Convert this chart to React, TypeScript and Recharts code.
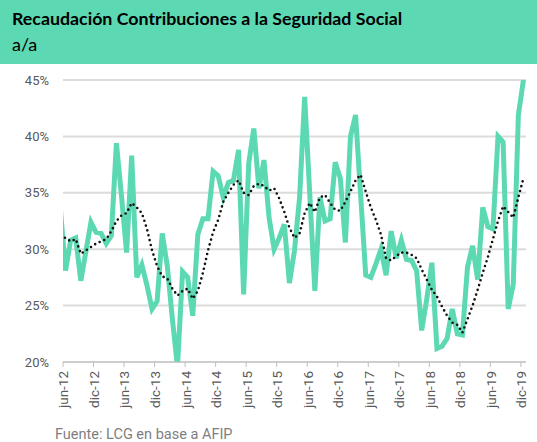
import { CartesianGrid, Line, LineChart, XAxis, YAxis } from "recharts";

const GREEN = "#5CD9B3";

// meses desde may-12 (parcialmente fuera del eje) hasta dic-19
const mesesNombre = ["ene", "feb", "mar", "abr", "may", "jun", "jul", "ago", "sep", "oct", "nov", "dic"];
const meses: string[] = [];
for (let a = 12; a <= 19; a++) {
  for (let m = 0; m < 12; m++) {
    if (a === 12 && m < 4) continue;
    meses.push(`${mesesNombre[m]}-${a}`);
  }
}

const etiquetas = [
  "jun-12", "dic-12", "jun-13", "dic-13", "jun-14", "dic-14", "jun-15", "dic-15",
  "jun-16", "dic-16", "jun-17", "dic-17", "jun-18", "dic-18", "jun-19", "dic-19",
];

// variación a/a (%)
const recaudacion = [
  33.5, 28.1, 30.8, 31.0, 27.2, 29.8, 32.4, 31.5, 31.4, 30.5, 31.2, 39.4,
  34.7, 29.7, 38.3, 27.5, 28.6, 26.8, 24.7, 25.4, 31.4, 28.5, 23.8, 19.6,
  28.0, 27.5, 24.1, 31.3, 32.7, 32.7, 36.9, 36.5, 34.6, 35.9, 36.1, 38.8,
  26.0, 37.6, 40.7, 35.4, 37.9, 32.8, 30.0, 31.0, 32.2, 27.0, 29.9, 34.6,
  43.5, 34.9, 26.3, 34.6, 32.5, 32.7, 37.7, 36.3, 30.6, 40.0, 41.9, 34.8,
  27.7, 27.5, 28.7, 30.0, 27.7, 31.6, 29.2, 30.8, 29.1, 29.0, 28.1, 22.8,
  25.6, 28.8, 21.2, 21.4, 22.1, 24.7, 22.5, 22.4, 28.4, 30.3, 27.3, 33.7,
  32.0, 31.8, 40.0, 39.5, 24.7, 26.9, 41.9, 45.0,
];

// promedio móvil
const promedio = [
  31.2, 31.0, 30.7, 30.9, 29.6, 29.9, 30.2, 30.5, 30.7, 30.9, 31.6, 32.5,
  33.0, 33.2, 34.1, 33.7, 33.2, 31.8, 29.9, 28.5, 27.6, 27.4, 26.5, 25.9,
  26.3, 26.5, 25.6, 26.3, 27.9, 29.9, 31.5, 32.6, 34.2, 35.0, 35.7, 36.1,
  35.0, 34.8, 35.6, 35.8, 35.6, 35.2, 35.4, 34.5, 33.3, 31.9, 31.0, 31.4,
  33.2, 34.1, 33.3, 34.6, 34.8, 34.1, 33.5, 33.4, 34.2, 35.1, 36.1, 36.6,
  35.1, 33.7, 32.6, 31.3, 29.2, 29.0, 29.4, 29.7, 29.7, 29.5, 29.2, 28.2,
  27.3, 26.4, 25.8, 24.9, 24.1, 23.5, 23.3, 22.6, 23.8, 25.0, 26.4, 27.9,
  29.3, 30.9, 32.5, 33.8, 33.3, 32.8, 34.6, 36.3,
];

const yTicks = [20, 25, 30, 35, 40, 45];

// cada mes se ubica a mitad de mes; las marcas del eje al inicio del mes
const data = meses.map((mes, i) => ({
  mes,
  t: i - 0.5,
  recaudacion: recaudacion[i],
  promedio: promedio[i],
}));
const xTicks = etiquetas.map((e) => meses.indexOf(e) - 1);

const XTick = (props: any) => {
  const { x, y, payload } = props;
  const label = meses[payload.value + 1];
  return (
    <g transform={`translate(${x},${y})`}>
      <text
        textAnchor="end"
        transform="rotate(-90)"
        dy="0.4em"
        fill="#595959"
        fontSize={13.5}
        fontFamily="Roboto"
      >
        {label}
      </text>
    </g>
  );
};

export default function App() {
  return (
    <div
      style={{
        position: "absolute",
        left: 0,
        top: 0,
        width: 537,
        height: 442,
        background: "#fff",
        overflow: "hidden",
      }}
    >
      <div
        style={{
          position: "absolute",
          left: 0,
          top: 0,
          width: 537,
          height: 64,
          background: GREEN,
        }}
      />
      <div
        style={{
          position: "absolute",
          left: 12,
          top: 7,
          fontFamily: "Lato",
          fontWeight: 700,
          fontSize: 17.8,
          color: "#000",
          lineHeight: "22px",
        }}
      >
        Recaudación Contribuciones a la Seguridad Social
      </div>
      <div
        style={{
          position: "absolute",
          left: 12,
          top: 33,
          fontFamily: "Lato",
          fontSize: 18,
          color: "#000",
          lineHeight: "22px",
        }}
      >
        a/a
      </div>
      <div style={{ position: "absolute", left: 0, top: 0 }}>
        <LineChart
          width={537}
          height={442}
          data={data}
          margin={{ top: 80, right: 11, bottom: 30, left: 8 }}
        >
          <CartesianGrid vertical={false} stroke="#DCDCDC" strokeWidth={2} />
          <XAxis
            type="number"
            dataKey="t"
            domain={[0, 91]}
            ticks={xTicks}
            allowDataOverflow
            interval={0}
            height={50}
            stroke="#BFBFBF"
            tickSize={5}
            tickMargin={4}
            tick={<XTick />}
          />
          <YAxis
            domain={[20, 45]}
            ticks={yTicks}
            allowDataOverflow
            width={55}
            axisLine={false}
            tickLine={false}
            tickSize={6}
            tickMargin={8}
            tickFormatter={(v: number) => `${v}%`}
            tick={{ fill: "#595959", fontSize: 13, fontFamily: "Roboto" }}
          />
          <Line
            type="linear"
            dataKey="recaudacion"
            stroke={GREEN}
            strokeWidth={5}
            dot={false}
            activeDot={false}
            isAnimationActive={false}
          />
          <Line
            type="linear"
            dataKey="promedio"
            stroke="#111"
            strokeWidth={2.6}
            strokeDasharray="0 5"
            strokeLinecap="round"
            dot={false}
            activeDot={false}
            isAnimationActive={false}
          />
        </LineChart>
      </div>
      <div
        style={{
          position: "absolute",
          left: 55,
          top: 426,
          fontFamily: "Roboto",
          fontSize: 14.5,
          color: "#7F7F7F",
          lineHeight: "18px",
        }}
      >
        Fuente: LCG en base a AFIP
      </div>
    </div>
  );
}
